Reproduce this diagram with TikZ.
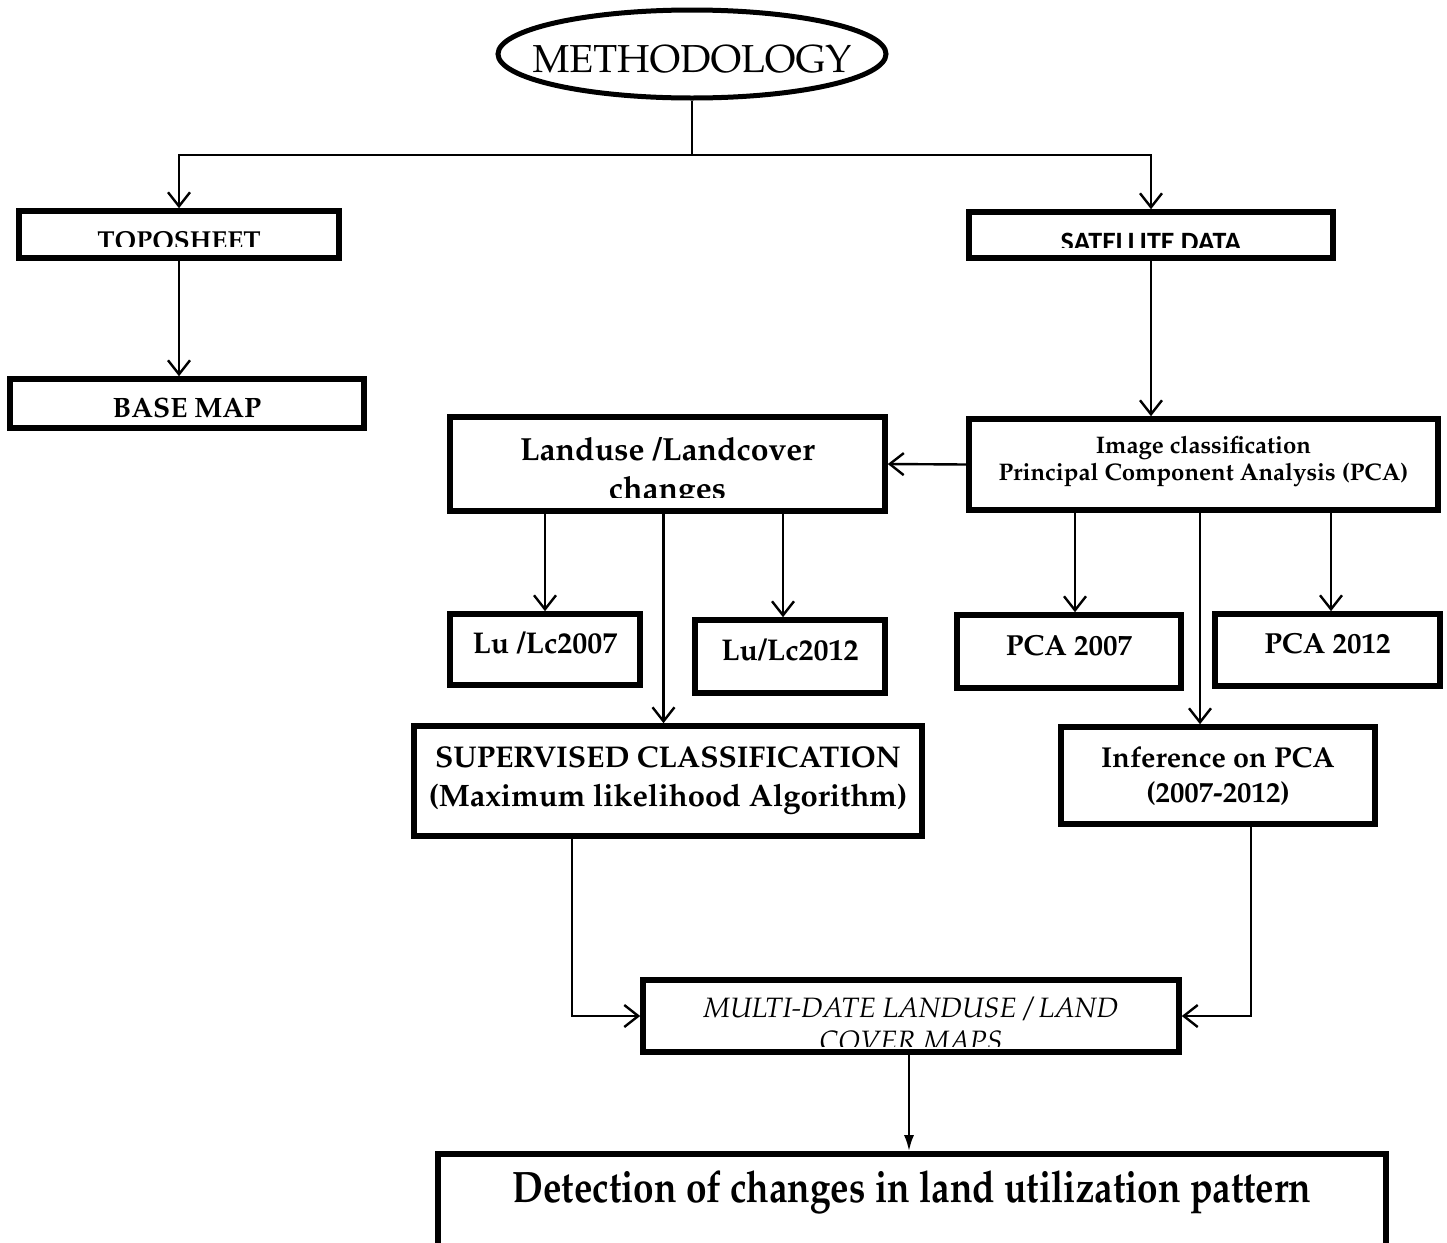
\documentclass[tikz,border=0pt]{standalone}
\usepackage[T1]{fontenc}
\usepackage{fontspec}
\newfontfamily\carl{Carlito}
\usetikzlibrary{arrows.meta,shapes.geometric}
\newcommand\pal{\fontencoding{T1}\fontfamily{ppl}\selectfont}
\begin{document}
\begin{tikzpicture}[x=0.5pt,y=-0.5pt,
  box/.style={draw, line width=2.8pt, rectangle, inner sep=0pt},
  lbl/.style={anchor=base, inner sep=0pt, align=center},
  arr/.style={line width=1.2pt, -{Straight Barb[length=7pt,width=11pt]}},
  farr/.style={line width=1.2pt, -{Latex[length=8pt,width=5pt]}},
  conn/.style={line width=1.2pt}]
\useasboundingbox (0,0) rectangle (1447,1243);
\clip (0,0) rectangle (1447,1243);
\fill[white] (0,0) rectangle (1447,1243);

% title
\node[draw, ellipse, line width=2.5pt, minimum width=194pt, minimum height=44pt, inner sep=0pt] (meth) at (692,54) {};
\node[lbl, font=\pal\fontsize{19.5}{24}\selectfont] (methT) at (692,72) {METHODOLOGY};
\coordinate (hub) at (692,155);

% boxes
\node[box, minimum width=160pt, minimum height=23.5pt] (topo) at (179,234.5) {};
\node[box, minimum width=177pt, minimum height=24.5pt] (base) at (187,403.5) {};
\node[box, minimum width=182pt, minimum height=23pt] (sat) at (1151,235) {};
\node[box, minimum width=234.5pt, minimum height=45.5pt] (img) at (1203.5,464.5) {};
\node[box, minimum width=217.5pt, minimum height=47pt] (lulc) at (667.5,464) {};
\node[box, minimum width=95pt, minimum height=35.5pt] (lu07) at (545,649.5) {};
\node[box, minimum width=95pt, minimum height=36.5pt] (lu12) at (790,656.5) {};
\node[box, minimum width=112pt, minimum height=36.5pt] (pca07) at (1069,651.5) {};
\node[box, minimum width=112.5pt, minimum height=36pt] (pca12) at (1327.5,650) {};
\node[box, minimum width=254pt, minimum height=55pt] (sup) at (668,781) {};
\node[box, minimum width=157pt, minimum height=48.5pt] (inf) at (1218,775.5) {};
\node[box, minimum width=268pt, minimum height=36pt] (multi) at (911,1016) {};
\node[box, minimum width=474pt, minimum height=72pt] (det) at (912,1226) {};

% texts (clipped ones)
\begin{scope}
\clip (17,209) rectangle (341,246);
\node[lbl, font=\pal\bfseries\fontsize{13}{15}\selectfont] (topoT) at (179,249) {TOPOSHEET};
\end{scope}
\begin{scope}
\clip (967,210) rectangle (1335,247);
\node[lbl, font=\carl\bfseries\fontsize{14}{16}\selectfont] (satT) at (1151,251) {SATELLITE DATA};
\end{scope}
\node[lbl, font=\pal\bfseries\fontsize{16}{19}\selectfont] (lulcT1) at (667.5,460) {Landuse /Landcover};
\begin{scope}
\clip (448,415) rectangle (887,497);
\node[lbl, font=\pal\bfseries\fontsize{16}{19}\selectfont] (lulcT2) at (667.5,499) {changes};
\end{scope}
\node[lbl, font=\pal\itshape\fontsize{14}{17}\selectfont] (multiT1) at (911,1017) {MULTI-DATE LANDUSE / LAND};
\begin{scope}
\clip (641,978) rectangle (1181,1046);
\node[lbl, font=\pal\itshape\fontsize{14}{17}\selectfont] (multiT2) at (911,1050) {COVER MAPS};
\end{scope}

% other texts
\node[lbl, font=\pal\bfseries\fontsize{14}{17}\selectfont] (baseT) at (187,417) {BASE MAP};
\node[lbl, font=\pal\bfseries\fontsize{12}{14}\selectfont] (imgT1) at (1203.5,453) {Image classification};
\node[lbl, font=\pal\bfseries\fontsize{12}{14}\selectfont] (imgT2) at (1203.5,480) {Principal Component Analysis (PCA)};
\node[lbl, font=\pal\bfseries\fontsize{15}{18}\selectfont] (lu07T) at (545,653) {Lu /Lc2007};
\node[lbl, font=\pal\bfseries\fontsize{15}{18}\selectfont] (lu12T) at (790,660) {Lu/Lc2012};
\node[lbl, font=\pal\bfseries\fontsize{14.5}{17}\selectfont] (pca07T) at (1069,655) {PCA 2007};
\node[lbl, font=\pal\bfseries\fontsize{14.5}{17}\selectfont] (pca12T) at (1327.5,653) {PCA 2012};
\node[lbl, font=\pal\bfseries\fontsize{15}{18}\selectfont] (supT1) at (668,767) {SUPERVISED CLASSIFICATION};
\node[lbl, font=\pal\bfseries\fontsize{15.5}{18}\selectfont] (supT2) at (668,806) {(Maximum likelihood Algorithm)};
\node[lbl, font=\pal\bfseries\fontsize{14.4}{17}\selectfont] (infT1) at (1218,767) {Inference on PCA};
\node[lbl, font=\pal\bfseries\fontsize{14.4}{17}\selectfont] (infT2) at (1218,802) {(2007-2012)};
\node[lbl, font=\pal\bfseries\fontsize{22}{26}\selectfont] (detT) at (912,1202) {\scalebox{0.84}[1]{Detection of changes in land utilization pattern}};

% connectors
\draw[conn] (meth.south) -- (hub);
\draw[arr] (hub) -| (topo.north);
\draw[arr] (hub) -| (sat.north);
\draw[arr] (topo.south) -- (topo.south |- base.north);
\draw[arr] (sat.south) -- (sat.south |- img.north);
\draw[arr] (img.west) -- (lulc.east);
\draw[arr] (lulc.south -| lu07.north) -- (lu07.north);
\draw[arr] ([xshift=-3.5pt]lu12.north |- lulc.south) -- ([xshift=-3.5pt]lu12.north);
\draw[arr] ([xshift=-2pt]lulc.south) -- ([xshift=-2pt]lulc.south |- sup.north);
\draw[arr] ([xshift=3pt]pca07.north |- img.south) -- ([xshift=3pt]pca07.north);
\draw[arr] ([xshift=1.75pt]pca12.north |- img.south) -- ([xshift=1.75pt]pca12.north);
\draw[arr] ([xshift=-9pt]inf.north |- img.south) -- ([xshift=-9pt]inf.north);
\draw[arr] ([xshift=-48pt]sup.south) |- (multi.west);
\draw[arr] ([xshift=16.5pt]inf.south) |- (multi.east);
\draw[farr] ([xshift=-1pt]multi.south) -- ([xshift=-1pt]multi.south |- det.north);
\end{tikzpicture}
\end{document}
